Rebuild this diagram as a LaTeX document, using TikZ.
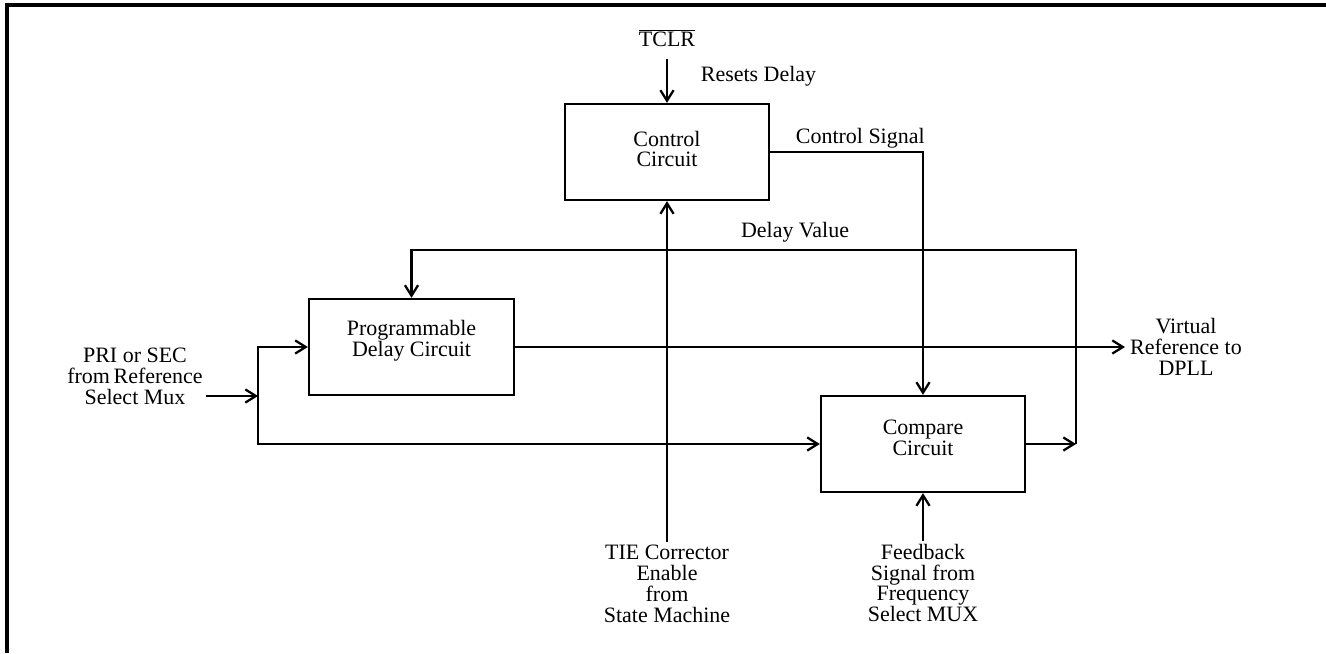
\documentclass[tikz,border=0pt]{standalone}
\usepackage{fontspec}
\setmainfont{Liberation Serif}
\usetikzlibrary{arrows.meta}
\begin{document}
\begin{tikzpicture}[x=0.02cm, y=-0.02cm, font=\fontsize{12.5}{11.9}\selectfont,
  line width=1.3pt,
  box/.style={draw, minimum width=4.08cm, minimum height=1.92cm, inner sep=0pt},
  txt/.style={align=center, inner sep=1pt},
  sig/.style={-{Straight Barb[length=6pt,width=7.5pt]}}]
\useasboundingbox (0,0) rectangle (1326,653);
% Cornice
\draw[line width=2.2pt] (7,653) -- (7,5) -- (1326,5);

% Blocchi
\node[box] (ctrl) at (667,152) {};
\node[txt] (ctrlt) at (667,149) {Control\\Circuit};
\node[box, minimum width=4.1cm] (prog) at (411.5,347) {};
\node[txt] (progt) at (411.5,341) {Programmable\\Delay Circuit};
\node[box] (cmp) at (923,444) {};
\node[txt] (cmpt) at (923,438) {Compare\\Circuit};

% Testi esterni
\node[txt] (tclr) at (667,38) {$\overline{\mbox{TCLR}}$};
\node[txt, anchor=west] (rst) at (698,76) {Resets Delay};
\node[txt, anchor=west] (csig) at (793,138) {Control Signal};
\node[txt] (dval) at (795,232) {Delay Value};
\node[txt] (src) at (135,376) {PRI or SEC\\from\,Reference\\Select Mux};
\node[txt] (vref) at (1186,347) {Virtual\\Reference to\\DPLL};
\node[txt, anchor=north] (tie) at (667,542) {TIE Corrector\\Enable\\from\\State Machine};
\node[txt, anchor=north] (fb) at (923,541) {Feedback\\Signal from\\Frequency\\Select MUX};

% Punti
\coordinate (in) at (206,396);
\coordinate (split) at (258,396);
\coordinate (out) at (1125,347);
\coordinate (dv) at (1076,444);
\coordinate (dvtop) at (1076,250);

% Connessioni
\draw[sig] ([yshift=-5pt]tclr.south) -- (ctrl.north);
\draw[sig] (ctrl.east) -| (cmp.north);
\draw[sig] (in) -- (split);
\draw[sig] (split) |- (prog.west);
\draw[sig] (split) |- (cmp.west);
\draw[sig] (prog.east) -- (out);
\draw[sig] (cmp.east) -- (dv);
\draw[sig] (dv) -- (dvtop) -| (prog.north);
\draw[sig] (tie.north) -- (ctrl.south);
\draw[sig] (fb.north) -- (cmp.south);

\end{tikzpicture}
\end{document}
